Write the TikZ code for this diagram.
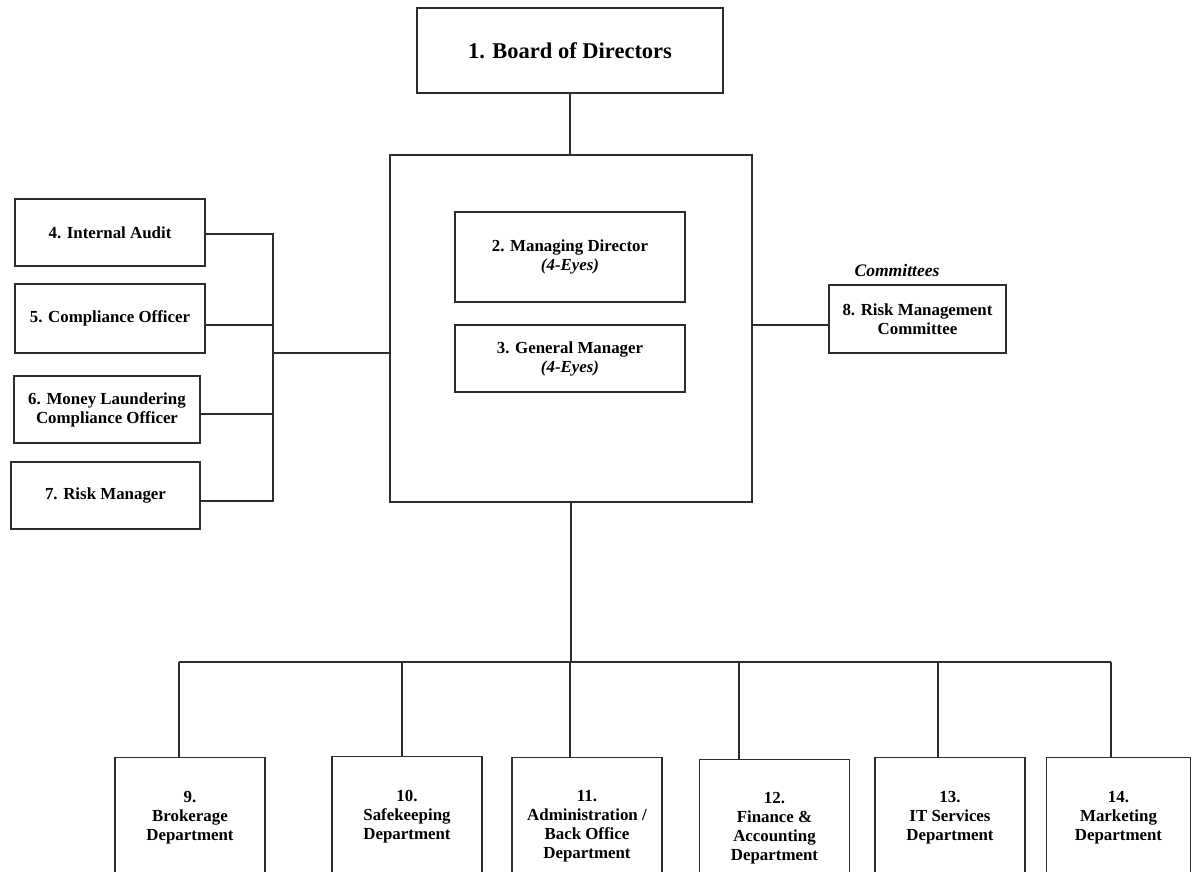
\documentclass[tikz,border=0pt]{standalone}
\usepackage{fontspec}
\setmainfont{Liberation Serif}
\usepackage{xcolor}
\usepackage{tikz}
\usetikzlibrary{positioning,calc}
\definecolor{rule}{RGB}{45,45,45}

\begin{document}
\begin{tikzpicture}[x=0.025cm, y=-0.025cm,
  every node/.style={font=\fontsize{12}{13.5}\selectfont\bfseries},
  box/.style={draw=rule, line width=0.8pt, align=center, inner sep=2pt},
  dept/.style={box, minimum width=3.75cm, minimum height=3cm, anchor=north},
  tall/.style={minimum height=3.45cm},
  link/.style={draw=rule, line width=0.8pt}
]
  % Page frame
  \clip (0,0) rectangle (1192,872);
  \fill[white] (0,0) rectangle (1192,872);

  % Board and executive block
  \node[box, minimum width=7.65cm, minimum height=2.125cm,
        font=\fontsize{16}{18}\selectfont\bfseries] (board) at (570,50.5) {1. Board of Directors};
  \node[box, minimum width=9.05cm, minimum height=8.675cm] (exec) at (571,328.5) {};
  \node[box, minimum width=5.75cm, minimum height=2.25cm] (md) at (570,257)
       {2. Managing Director\\\textit{(4-Eyes)}};
  \node[box, minimum width=5.75cm, minimum height=1.675cm] (gm) at (570,358.5)
       {3. General Manager\\\textit{(4-Eyes)}};

  % Committees (right)
  \node[font=\fontsize{12.5}{14}\selectfont\bfseries\itshape] (comlabel) at (897,270) {Committees};
  \node[box, minimum width=4.425cm, minimum height=1.7cm] (rmc) at (917.5,319)
       {8. Risk Management\\Committee};

  % Control functions (left)
  \node[box, minimum width=4.75cm, minimum height=1.675cm] (audit) at (110,232.5) {4. Internal Audit};
  \node[box, minimum width=4.75cm, minimum height=1.725cm] (comp) at (110,318.5) {5. Compliance Officer};
  \node[box, minimum width=4.65cm, minimum height=1.675cm] (mlco) at (107,409.5)
       {6. Money Laundering\\Compliance Officer};
  \node[box, minimum width=4.725cm, minimum height=1.675cm] (riskmgr) at (105.5,495.5) {7. Risk Manager};

  % Departments (bottom)
  \node[dept] (d9)  at (190,757)   {9.\\Brokerage\\Department};
  \node[dept] (d10) at (407,756)   {10.\\Safekeeping\\Department};
  \node[dept, tall] (d11) at (587,757)   {11.\\Administration /\\Back Office\\Department};
  \node[dept, tall] (d12) at (774.5,759) {12.\\Finance \&\\Accounting\\Department};
  \node[dept] (d13) at (950,757)   {13.\\IT Services\\Department};
  \node[dept, minimum width=3.6cm] (d14) at (1118.5,757) {14.\\Marketing\\Department};

  % Links - top
  \coordinate (rlink) at (790,325);
  \draw[link] (board) -- (board |- exec.north);
  \draw[link] (rlink -| exec.east) -- (rlink -| rmc.west);

  % Links - control functions
  \coordinate (sbtop) at (273,234);
  \coordinate (sbcomp) at (273,325);
  \coordinate (sbmid) at (273,353);
  \coordinate (sbml) at (273,414);
  \coordinate (sbbot) at (273,501);
  \draw[link] (audit.east |- sbtop) -- (sbtop) -- (sbbot) -- (riskmgr.east |- sbbot);
  \draw[link] (comp.east |- sbcomp) -- (sbcomp);
  \draw[link] (mlco.east |- sbml) -- (sbml);
  \draw[link] (sbmid) -- (sbmid -| exec.west);

  % Links - departments
  \foreach \n/\x in {9/179,10/402,11/570,12/739,13/938,14/1111} {
    \coordinate (b\n) at (\x,662);
    \draw[link] (b\n) -- (b\n |- d\n.north);
  }
  \draw[link] (b9) -- (b14);
  \draw[link] (exec.south) -- (exec.south |- b11);
\end{tikzpicture}
\end{document}
